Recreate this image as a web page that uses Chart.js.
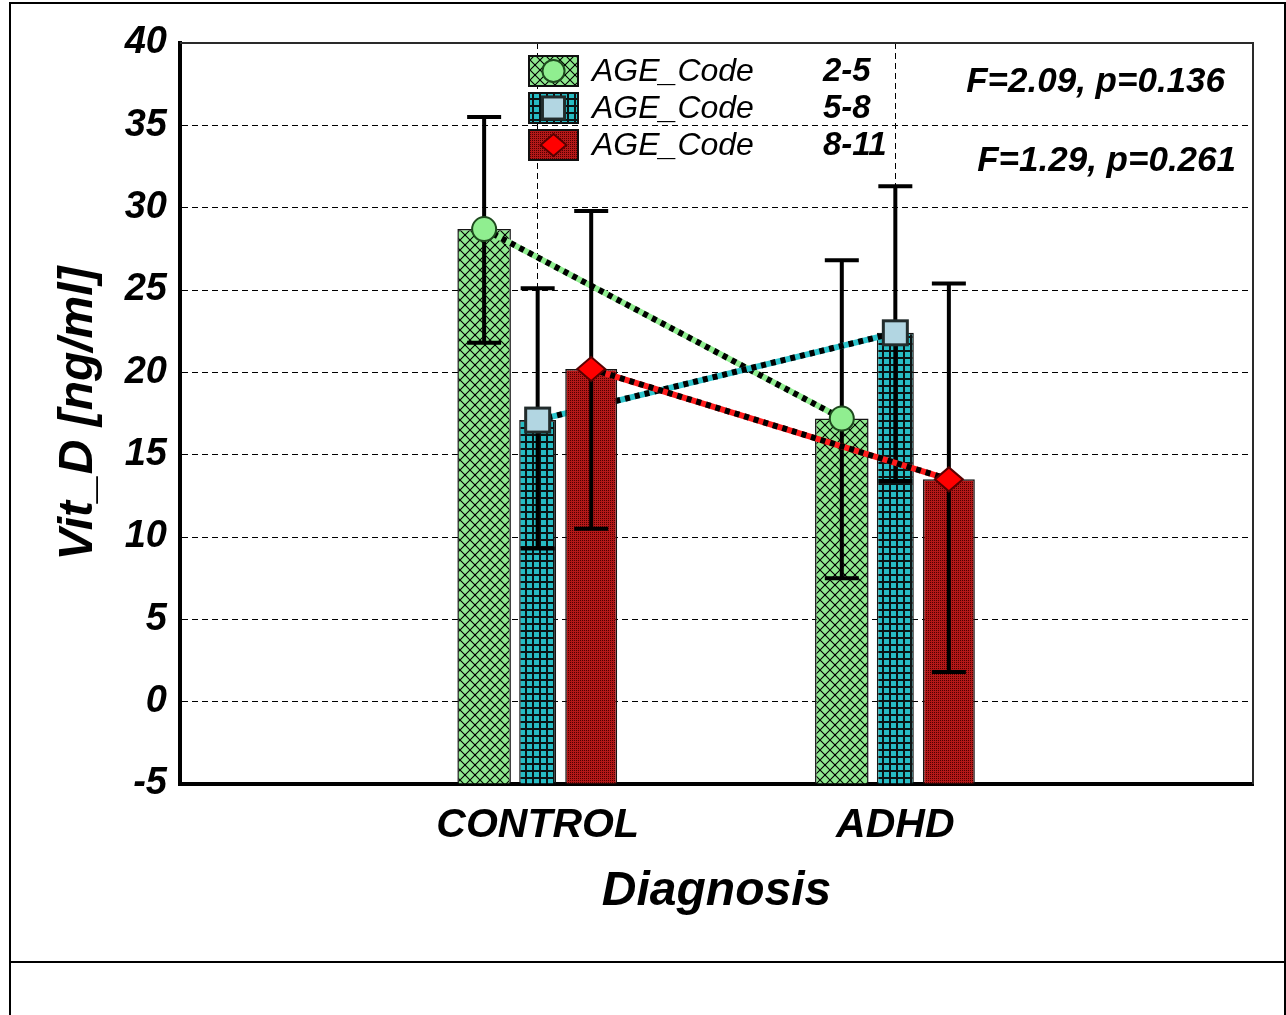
<!DOCTYPE html>
<html><head><meta charset="utf-8">
<script src="https://cdn.jsdelivr.net/npm/chart.js@4/dist/chart.umd.min.js"></script>
<style>
html,body{margin:0;padding:0;background:#fff;overflow:hidden}
#wrap{position:relative;width:1286px;height:1015px;overflow:hidden}
#frame{position:absolute;left:9px;top:2px;width:1277px;height:1040px;border:2px solid #000;box-sizing:border-box}
#sep{position:absolute;left:9px;top:961px;width:1277px;height:2px;background:#000}
canvas{position:absolute;left:0;top:0}
</style></head><body>
<div id="wrap"><div id="frame"></div><div id="sep"></div><canvas id="c" width="1286" height="1015"></canvas></div>
<script>
// ---- data ----
const categories = ['CONTROL', 'ADHD'];
const seriesName = 'AGE_Code';
const seriesLevels = ['2-5', '5-8', '8-11'];
const meanAge25 = [28.7, 17.2];
const meanAge58 = [17.1, 22.4];
const meanAge811 = [20.2, 13.5];
const upperAge25 = [35.5, 26.8];
const lowerAge25 = [21.8, 7.5];
const upperAge58 = [25.1, 31.3];
const lowerAge58 = [9.3, 13.4];
const upperAge811 = [29.8, 25.4];
const lowerAge811 = [10.5, 1.8];
const yTicks = [-5, 0, 5, 10, 15, 20, 25, 30, 35, 40];
const statLines = ['F=2.09, p=0.136', 'F=1.29, p=0.261'];
const xTitle = 'Diagnosis';
const yTitle = 'Vit_D [ng/ml]';

// ---- styles ----
const FONT = "'Liberation Sans', Arial, sans-serif";
function makePattern(size, paint) {
  const c = document.createElement('canvas');
  c.width = size; c.height = size;
  const g = c.getContext('2d');
  paint(g, size);
  return document.getElementById('c').getContext('2d').createPattern(c, 'repeat');
}
const patGreen = makePattern(10, (g, s) => {
  g.fillStyle = '#8fea8f'; g.fillRect(0, 0, s, s);
  g.strokeStyle = '#000'; g.lineWidth = 1.1;
  g.beginPath(); g.moveTo(-1, -1); g.lineTo(s + 1, s + 1); g.moveTo(s + 1, -1); g.lineTo(-1, s + 1); g.stroke();
  g.fillStyle = '#000'; g.fillRect(s / 2 - 1, s / 2 - 1, 2, 2);
});
const patBlue = makePattern(7, (g, s) => {
  g.fillStyle = '#0a1414'; g.fillRect(0, 0, s, s);
  g.fillStyle = '#27bcc4'; g.fillRect(2, 2, 5, 5);
});
const patRed = makePattern(2, (g, s) => {
  g.fillStyle = '#b41818'; g.fillRect(0, 0, s, s);
  g.fillStyle = '#500000'; g.fillRect(0, 0, 1, 1);
});

const series = [
  { mean: meanAge25, upper: upperAge25, lower: lowerAge25, fill: patGreen, line: '#90ee90', marker: 'circle', barPct: 1.0 },
  { mean: meanAge58, upper: upperAge58, lower: lowerAge58, fill: patBlue, line: '#2cc4cc', marker: 'square', barPct: 0.69 },
  { mean: meanAge811, upper: upperAge811, lower: lowerAge811, fill: patRed, line: '#ff1a1a', marker: 'diamond', barPct: 0.97 }
];

function drawMarker(ctx, type, x, y, k) {
  ctx.save();
  ctx.setLineDash([]);
  if (type === 'circle') {
    ctx.beginPath(); ctx.arc(x, y, 12 * k, 0, Math.PI * 2);
    ctx.fillStyle = '#90ee90'; ctx.fill();
    ctx.lineWidth = 2; ctx.strokeStyle = '#1e4a1e'; ctx.stroke();
  } else if (type === 'square') {
    const h = 12 * k;
    ctx.fillStyle = '#b2d6e2'; ctx.fillRect(x - h, y - h, 2 * h, 2 * h);
    ctx.lineWidth = 3; ctx.strokeStyle = '#222c2c'; ctx.strokeRect(x - h, y - h, 2 * h, 2 * h);
  } else {
    const w = 14 * k, hh = 12 * k;
    ctx.beginPath(); ctx.moveTo(x - w, y); ctx.lineTo(x, y - hh); ctx.lineTo(x + w, y); ctx.lineTo(x, y + hh); ctx.closePath();
    ctx.fillStyle = '#ff0000'; ctx.fill();
    ctx.lineWidth = 2; ctx.strokeStyle = '#5a0000'; ctx.stroke();
  }
  ctx.restore();
}

const customDraw = {
  id: 'customDraw',
  beforeDatasetsDraw(chart) {
    const ctx = chart.ctx, ca = chart.chartArea, ys = chart.scales.y;
    ctx.save();
    ctx.beginPath(); ctx.rect(ca.left, ca.top, ca.right - ca.left, ca.bottom - ca.top); ctx.clip();
    series.forEach((s, si) => {
      const meta = chart.getDatasetMeta(si);
      const pts = [];
      meta.data.forEach((el, j) => {
        const v = chart.data.datasets[si].data[j];
        if (v === null || v === undefined) return;
        el.draw(ctx, ca);
        pts.push({ x: el.x, k: j - 1 });
      });
      // connecting mean line
      ctx.beginPath();
      pts.forEach((p, i) => {
        const py = ys.getPixelForValue(s.mean[p.k]);
        if (i) ctx.lineTo(p.x, py); else ctx.moveTo(p.x, py);
      });
      ctx.lineWidth = 6; ctx.lineCap = 'butt'; ctx.setLineDash([]);
      ctx.strokeStyle = s.line; ctx.stroke();
      ctx.setLineDash([5, 5]); ctx.strokeStyle = '#000'; ctx.stroke();
      ctx.setLineDash([]);
      // error bars
      pts.forEach(p => {
        const yt = ys.getPixelForValue(s.upper[p.k]);
        const yb = ys.getPixelForValue(s.lower[p.k]);
        ctx.lineWidth = 4; ctx.strokeStyle = '#000';
        ctx.beginPath();
        ctx.moveTo(p.x, yt); ctx.lineTo(p.x, yb);
        ctx.moveTo(p.x - 17, yt); ctx.lineTo(p.x + 17, yt);
        ctx.moveTo(p.x - 17, yb); ctx.lineTo(p.x + 17, yb);
        ctx.stroke();
      });
      pts.forEach(p => drawMarker(ctx, s.marker, p.x, ys.getPixelForValue(s.mean[p.k]), 1));
    });
    ctx.restore();
    return false;
  },
  afterDraw(chart) {
    const ctx = chart.ctx, ca = chart.chartArea;
    ctx.save();
    // top and right frame of plot
    ctx.strokeStyle = '#2a2a2a'; ctx.lineWidth = 2; ctx.setLineDash([]);
    ctx.beginPath(); ctx.moveTo(ca.left, ca.top); ctx.lineTo(ca.right, ca.top); ctx.lineTo(ca.right, ca.bottom); ctx.stroke();
    // legend
    const lx = ca.left + 349;
    series.forEach((s, i) => {
      const top = ca.top + 13 + i * 37;
      ctx.fillStyle = s.fill; ctx.fillRect(lx, top, 49, 30);
      ctx.lineWidth = 2; ctx.strokeStyle = '#111'; ctx.strokeRect(lx, top, 49, 30);
      drawMarker(ctx, s.marker, lx + 24.5, top + 15, 0.92);
      ctx.fillStyle = '#000'; ctx.textAlign = 'left'; ctx.textBaseline = 'alphabetic';
      ctx.font = 'italic 32px ' + FONT;
      ctx.fillText(seriesName, lx + 63, top + 25);
      ctx.font = 'italic bold 33px ' + FONT;
      ctx.fillText(seriesLevels[i], lx + 294, top + 25);
    });
    // statistics text
    ctx.font = 'italic bold 35px ' + FONT;
    ctx.textAlign = 'right'; ctx.fillStyle = '#000';
    ctx.fillText(statLines[0], ca.right - 28, ca.top + 49);
    ctx.fillText(statLines[1], ca.right - 17, ca.top + 128);
    ctx.restore();
  }
};

const labels = ['', ...categories, ''];
const yMin = yTicks[0], yMax = yTicks[yTicks.length - 1];

new Chart(document.getElementById('c'), {
  type: 'bar',
  data: {
    labels: labels,
    datasets: series.map((s, i) => ({
      label: seriesName + ' ' + seriesLevels[i],
      data: [null, ...s.mean, null],
      base: yMin,
      backgroundColor: s.fill,
      borderColor: '#151515',
      borderWidth: 1.5,
      categoryPercentage: 0.449,
      barPercentage: s.barPct
    }))
  },
  options: {
    responsive: false,
    animation: false,
    devicePixelRatio: 1,
    events: [],
    layout: { padding: { left: 0, top: 43, right: 33, bottom: 0 } },
    plugins: { legend: { display: false }, tooltip: { enabled: false } },
    scales: {
      x: {
        type: 'category',
        offset: false,
        grid: {
          offset: false,
          drawTicks: false,
          lineWidth: 1,
          color: c => (c.index === 1 || c.index === 2) ? '#000' : 'rgba(0,0,0,0)'
        },
        border: { display: true, width: 4, color: '#000', dash: [6, 4] },
        ticks: {
          autoSkip: false, maxRotation: 0, minRotation: 0, padding: 17,
          color: '#000', font: { family: FONT, size: 41, weight: 'bold', style: 'italic' }
        },
        title: {
          display: true, text: xTitle, color: '#000',
          font: { family: FONT, size: 48, weight: 'bold', style: 'italic' },
          padding: { top: 0, bottom: 94 }
        },
        afterFit: s => { s.height = 231; }
      },
      y: {
        min: yMin, max: yMax,
        afterBuildTicks: s => { s.ticks = yTicks.map(v => ({ value: v })); },
        grid: { drawTicks: false, lineWidth: 1, color: '#000' },
        border: { display: true, width: 4, color: '#000', dash: [6, 4] },
        ticks: {
          padding: 13, color: '#000',
          font: { family: FONT, size: 38, weight: 'bold', style: 'italic' }
        },
        title: {
          display: true, text: yTitle, color: '#000',
          font: { family: FONT, size: 48, weight: 'bold', style: 'italic' },
          padding: { top: 50, bottom: 0 }
        },
        afterFit: s => { s.width = 180; }
      }
    }
  },
  plugins: [customDraw]
});
</script>
</body></html>
